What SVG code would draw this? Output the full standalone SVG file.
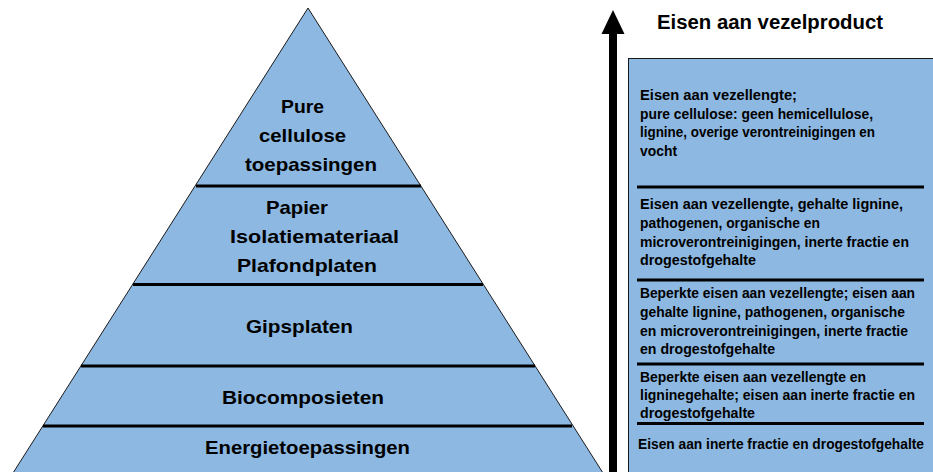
<svg xmlns="http://www.w3.org/2000/svg" width="933" height="472" viewBox="0 0 933 472">
<style>
.fill{fill:#8DB8E1;stroke:#1a1a1a;stroke-width:1}
.div{stroke:#000;stroke-width:3;fill:none}
.pt{font-family:"Liberation Sans",Arial,sans-serif;font-weight:bold;font-size:19px;fill:#000}
.bt{font-family:"Liberation Sans",Arial,sans-serif;font-weight:bold;font-size:14px;fill:#000}
.tt{font-family:"Liberation Sans",Arial,sans-serif;font-weight:bold;font-size:20px;fill:#000}
</style>
<rect width="933" height="472" fill="#fff"/>
<g id="pyramid">
<polygon class="fill" points="308,8 603,473 13,473"/>
</g>
<g id="layer-pure">
<text class="pt" x="281" y="113" textLength="43" lengthAdjust="spacingAndGlyphs">Pure</text>
<text class="pt" x="259" y="142" textLength="87" lengthAdjust="spacingAndGlyphs">cellulose</text>
<text class="pt" x="245" y="171" textLength="132" lengthAdjust="spacingAndGlyphs">toepassingen</text>
<line class="div" x1="196" y1="186" x2="421" y2="186"/>
</g>
<g id="layer-papier">
<text class="pt" x="266" y="214" textLength="62" lengthAdjust="spacingAndGlyphs">Papier</text>
<text class="pt" x="230" y="243" textLength="169" lengthAdjust="spacingAndGlyphs">Isolatiemateriaal</text>
<text class="pt" x="237" y="272" textLength="140" lengthAdjust="spacingAndGlyphs">Plafondplaten</text>
<line class="div" x1="133" y1="284.5" x2="483" y2="284.5"/>
</g>
<g id="layer-gips">
<text class="pt" x="246" y="333" textLength="107" lengthAdjust="spacingAndGlyphs">Gipsplaten</text>
<line class="div" x1="81" y1="366" x2="535" y2="366"/>
</g>
<g id="layer-bio">
<text class="pt" x="222" y="404" textLength="162" lengthAdjust="spacingAndGlyphs">Biocomposieten</text>
<line class="div" x1="43" y1="426" x2="572" y2="426"/>
</g>
<g id="layer-energie">
<text class="pt" x="205" y="454" textLength="205" lengthAdjust="spacingAndGlyphs">Energietoepassingen</text>
</g>
<g id="connectors">
<rect x="609" y="32" width="8" height="441" fill="#000"/>
<polygon points="613,10 624.5,34 601.5,34" fill="#000"/>
</g>
<g id="title">
<text class="tt" x="657" y="29" textLength="226" lengthAdjust="spacingAndGlyphs">Eisen aan vezelproduct</text>
</g>
<g id="requirements">
<rect class="fill" x="628.5" y="58.5" width="320" height="430"/>
</g>
<g id="req-pure">
<text class="bt" x="640" y="100" textLength="157" lengthAdjust="spacingAndGlyphs">Eisen aan vezellengte;</text>
<text class="bt" x="640" y="119" textLength="233" lengthAdjust="spacingAndGlyphs">pure cellulose: geen hemicellulose,</text>
<text class="bt" x="640" y="137" textLength="235" lengthAdjust="spacingAndGlyphs">lignine, overige verontreinigingen en</text>
<text class="bt" x="640" y="156" textLength="37" lengthAdjust="spacingAndGlyphs">vocht</text>
<line class="div" x1="637" y1="187" x2="924" y2="187"/>
</g>
<g id="req-papier">
<text class="bt" x="640" y="209" textLength="263" lengthAdjust="spacingAndGlyphs">Eisen aan vezellengte, gehalte lignine,</text>
<text class="bt" x="640" y="228" textLength="180" lengthAdjust="spacingAndGlyphs">pathogenen, organische en</text>
<text class="bt" x="640" y="247" textLength="269" lengthAdjust="spacingAndGlyphs">microverontreinigingen, inerte fractie en</text>
<text class="bt" x="640" y="265" textLength="116" lengthAdjust="spacingAndGlyphs">drogestofgehalte</text>
<line class="div" x1="637" y1="280" x2="924" y2="280"/>
</g>
<g id="req-gips">
<text class="bt" x="640" y="298" textLength="275" lengthAdjust="spacingAndGlyphs">Beperkte eisen aan vezellengte; eisen aan</text>
<text class="bt" x="640" y="317" textLength="265" lengthAdjust="spacingAndGlyphs">gehalte lignine, pathogenen, organische</text>
<text class="bt" x="640" y="336" textLength="268" lengthAdjust="spacingAndGlyphs">en microverontreinigingen, inerte fractie</text>
<text class="bt" x="640" y="354" textLength="135" lengthAdjust="spacingAndGlyphs">en drogestofgehalte</text>
<line class="div" x1="637" y1="364" x2="924" y2="364"/>
</g>
<g id="req-bio">
<text class="bt" x="640" y="382" textLength="226" lengthAdjust="spacingAndGlyphs">Beperkte eisen aan vezellengte en</text>
<text class="bt" x="640" y="400" textLength="275" lengthAdjust="spacingAndGlyphs">ligninegehalte; eisen aan inerte fractie en</text>
<text class="bt" x="640" y="418" textLength="115" lengthAdjust="spacingAndGlyphs">drogestofgehalte</text>
<line class="div" x1="637" y1="423.5" x2="924" y2="423.5"/>
</g>
<g id="req-energie">
<text class="bt" x="638" y="449" textLength="286" lengthAdjust="spacingAndGlyphs">Eisen aan inerte fractie en drogestofgehalte</text>
</g>
</svg>
